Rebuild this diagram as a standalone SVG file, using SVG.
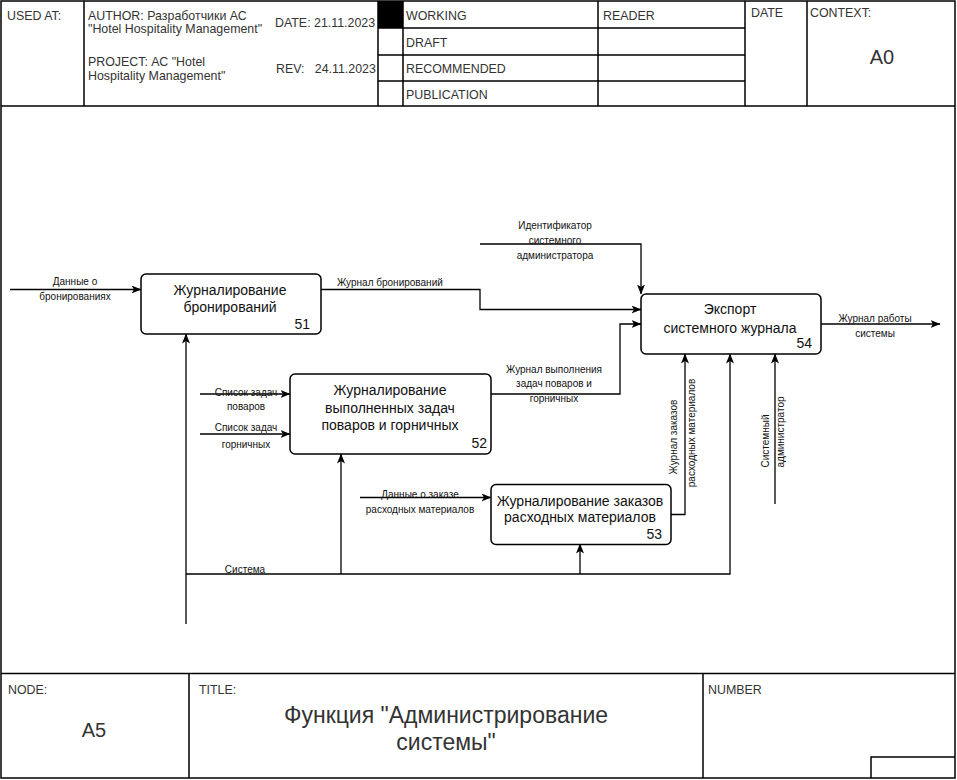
<svg xmlns="http://www.w3.org/2000/svg" width="957" height="780" viewBox="0 0 957 780">
<defs>
<marker id="arr" markerWidth="10" markerHeight="8" refX="9.5" refY="4" orient="auto" markerUnits="userSpaceOnUse">
<path d="M0,0 L10,4 L0,8 L2.5,4 z" fill="#000"/>
</marker>
<style>
.frame{fill:none;stroke:#000;stroke-width:1.5}
.hdr{font-family:"Liberation Sans",Arial,sans-serif;font-size:12.4px;fill:#333}
.big{font-size:20px}
.ttl{font-size:23px}
.mid{text-anchor:middle}
.box{fill:#fff;stroke:#000;stroke-width:1.5}
.bt{font-family:"Liberation Sans",Arial,sans-serif;font-size:14px;fill:#111;text-anchor:middle}
.num{font-family:"Liberation Sans",Arial,sans-serif;font-size:14px;fill:#111;text-anchor:end}
.lbl{font-family:"Liberation Sans",Arial,sans-serif;font-size:10px;fill:#111;text-anchor:middle}
.c{fill:none;stroke:#000;stroke-width:1.3}
.ca{fill:none;stroke:#000;stroke-width:1.3;marker-end:url(#arr)}
</style>
</defs>
<rect x="0" y="0" width="957" height="780" fill="#fff"/>

<g id="frame">
<rect class="frame" x="1" y="1" width="954" height="777"/>
<path class="frame" d="M1,106 H955 M84,1 V106 M378,1 V106 M403,1 V106 M598,1 V106 M745,1 V106 M807,1 V106 M378,28 H745 M378,55 H745 M378,81 H745"/>
<rect x="378" y="1" width="25" height="27" fill="#000"/>
<path class="frame" d="M1,673.5 H955 M189,673.5 V778 M703,673.5 V778 M871,778 V757 H955"/>
</g>

<g id="header-text" class="hdr">
<text x="7" y="20">USED AT:</text>
<text x="88" y="19.5">AUTHOR: Разработчики АС</text>
<text x="88" y="33">"Hotel Hospitality Management"</text>
<text x="275" y="27">DATE: 21.11.2023</text>
<text x="88" y="66">PROJECT: АС "Hotel</text>
<text x="88" y="79.5">Hospitality Management"</text>
<text x="276" y="72.5" xml:space="preserve">REV:   24.11.2023</text>
<text x="406" y="20">WORKING</text>
<text x="406" y="46.5">DRAFT</text>
<text x="406" y="72.5">RECOMMENDED</text>
<text x="406" y="99">PUBLICATION</text>
<text x="603" y="20">READER</text>
<text x="751" y="16.5">DATE</text>
<text x="810" y="16.5">CONTEXT:</text>
<text class="big mid" x="882" y="64">A0</text>
</g>

<g id="footer-text" class="hdr">
<text x="8" y="694">NODE:</text>
<text class="big mid" x="94" y="737">A5</text>
<text x="199" y="694">TITLE:</text>
<text class="ttl mid" x="446" y="722.5">Функция "Администрирование</text>
<text class="ttl mid" x="446" y="750">системы"</text>
<text x="708" y="694">NUMBER</text>
</g>

<g id="connectors">
<path class="ca" d="M10,289.5 H141"/>
<path class="ca" d="M321,289.5 H480 V309.5 H641"/>
<path class="ca" d="M480,244 H641 V294"/>
<path class="ca" d="M491,394 H620 V324 H641"/>
<path class="ca" d="M821,324 H940"/>
<path class="ca" d="M671,514.5 H685 V354"/>
<path class="ca" d="M186,624 V334"/>
<path class="ca" d="M186,574 H730 V354"/>
<path class="ca" d="M341,574 V454"/>
<path class="ca" d="M580,574 V544"/>
<path class="ca" d="M775,504 V354"/>
<path class="ca" d="M200,394 H290"/>
<path class="ca" d="M200,434 H290"/>
<path class="ca" d="M360,497.5 H491"/>
</g>

<g id="connector-labels" class="lbl">
<text x="75" y="284.5">Данные о</text>
<text x="75" y="299.5">бронированиях</text>
<text x="337" y="286" text-anchor="start">Журнал бронирований</text>
<text x="555" y="228.5">Идентификатор</text>
<text x="555" y="243.5">системного</text>
<text x="555" y="258.5">администратора</text>
<text x="875" y="321.5">Журнал работы</text>
<text x="875" y="336.5">системы</text>
<text x="554" y="372.5">Журнал выполнения</text>
<text x="554" y="386.5">задач поваров и</text>
<text x="554" y="401.5">горничных</text>
<text x="246" y="395.5">Список задач</text>
<text x="246" y="410">поваров</text>
<text x="246" y="431">Список задач</text>
<text x="246" y="448">горничных</text>
<text x="420" y="497.5">Данные о заказе</text>
<text x="420" y="513">расходных материалов</text>
<text x="245" y="572.5">Система</text>
<text transform="translate(676.5,437) rotate(-90)">Журнал заказов</text>
<text transform="translate(695,433) rotate(-90)">расходных материалов</text>
<text transform="translate(768.5,441) rotate(-90)">Системный</text>
<text transform="translate(783.5,432) rotate(-90)">администратор</text>
</g>

<g id="node51">
<rect class="box" x="141" y="274" width="180" height="60" rx="5"/>
<text class="bt" x="230" y="295">Журналирование</text>
<text class="bt" x="230" y="311.5">бронирований</text>
<text class="num" x="310" y="329">51</text>
</g>

<g id="node52">
<rect class="box" x="290" y="374" width="201" height="80" rx="5"/>
<text class="bt" x="390" y="395">Журналирование</text>
<text class="bt" x="390" y="413">выполненных задач</text>
<text class="bt" x="390" y="429.5">поваров и горничных</text>
<text class="num" x="487" y="447.5">52</text>
</g>

<g id="node53">
<rect class="box" x="491" y="484.5" width="180" height="60" rx="5"/>
<text class="bt" x="580" y="505.5">Журналирование заказов</text>
<text class="bt" x="580" y="521.5">расходных материалов</text>
<text class="num" x="662" y="538.5">53</text>
</g>

<g id="node54">
<rect class="box" x="641" y="294" width="180" height="60" rx="5"/>
<text class="bt" x="730" y="314">Экспорт</text>
<text class="bt" x="730" y="332.5">системного журнала</text>
<text class="num" x="812" y="347.5">54</text>
</g>
</svg>
